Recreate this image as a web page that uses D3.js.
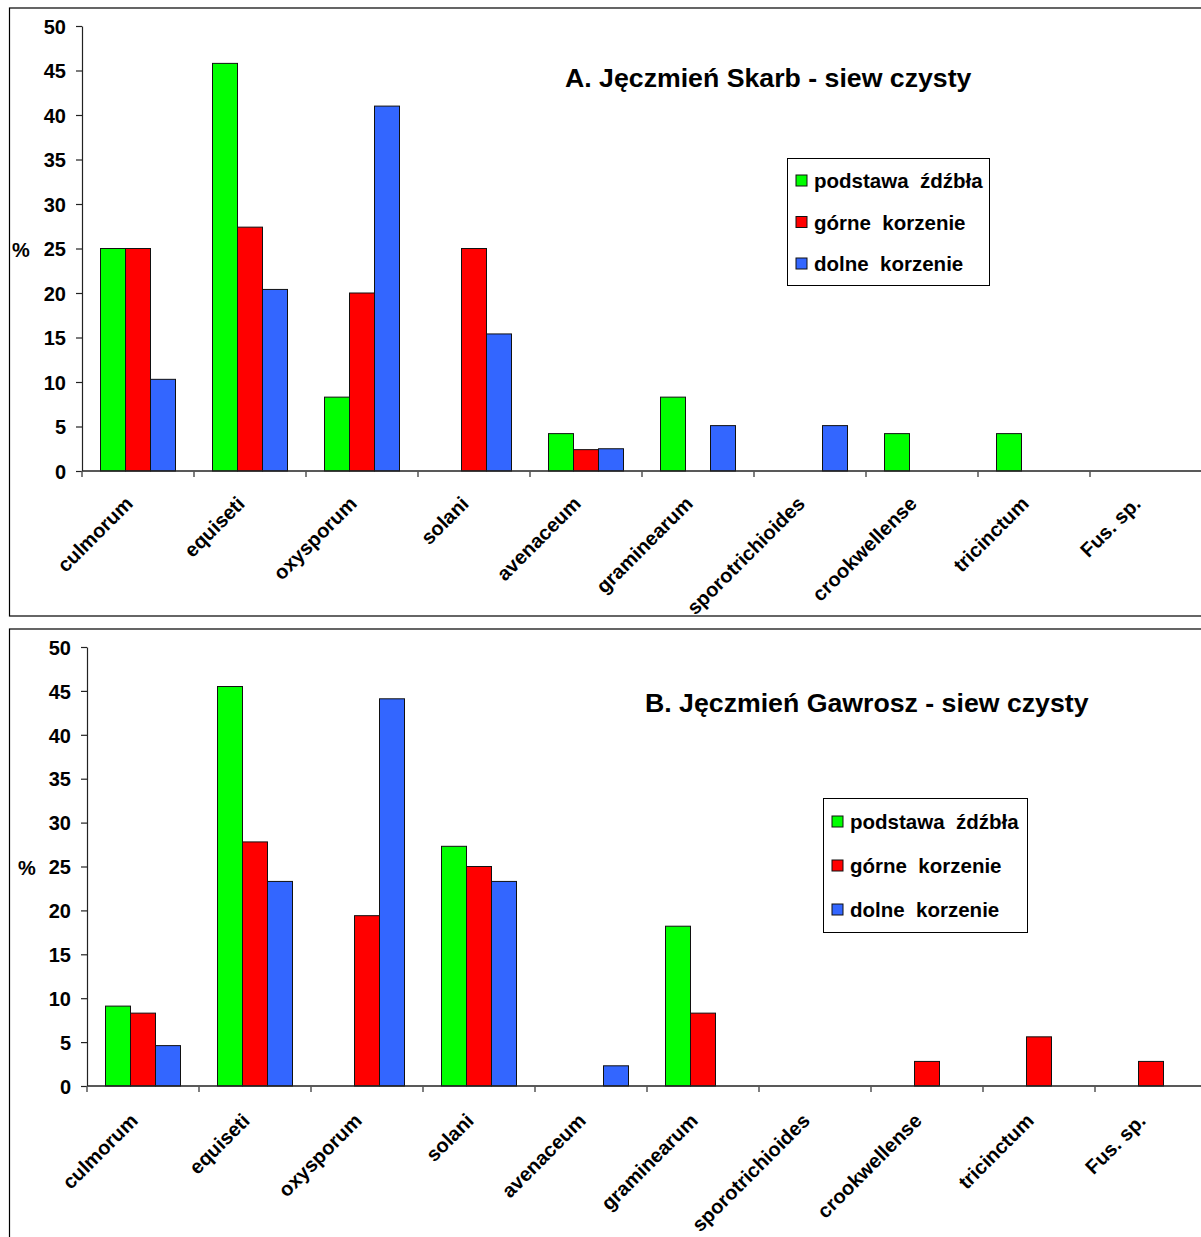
<!DOCTYPE html>
<html>
<head>
<meta charset="utf-8">
<script src="https://cdn.jsdelivr.net/npm/d3@7"></script>
<style>
  html, body { margin: 0; padding: 0; background: #fff; }
  svg { display: block; }
  text { font-family: "Liberation Sans", Arial, sans-serif; font-weight: bold; fill: #000; }
</style>
</head>
<body>
<svg id="chart" width="1201" height="1237"></svg>
<script>
// Fusarium species isolated from barley plant parts (% of isolates)
const categories = ["culmorum", "equiseti", "oxysporum", "solani", "avenaceum",
  "graminearum", "sporotrichioides", "crookwellense", "tricinctum", "Fus. sp."];
const seriesNames = ["podstawa  źdźbła", "górne  korzenie", "dolne  korzenie"];
const seriesColors = ["#00ff00", "#ff0000", "#3366ff"];
const yTicks = [0, 5, 10, 15, 20, 25, 30, 35, 40, 45, 50];

// A. Skarb
const skarbPodstawa = [25, 45.8, 8.3, 0, 4.2, 8.3, 0, 4.2, 4.2, 0];
const skarbGorne    = [25, 27.4, 20, 25, 2.4, 0, 0, 0, 0, 0];
const skarbDolne    = [10.3, 20.4, 41, 15.4, 2.5, 5.1, 5.1, 0, 0, 0];

// B. Gawrosz
const gawroszPodstawa = [9.1, 45.5, 0, 27.3, 0, 18.2, 0, 0, 0, 0];
const gawroszGorne    = [8.3, 27.8, 19.4, 25, 0, 8.3, 0, 2.8, 5.6, 2.8];
const gawroszDolne    = [4.6, 23.3, 44.1, 23.3, 2.3, 0, 0, 0, 0, 0];

const titleA = "A. Jęczmień Skarb - siew czysty";
const titleB = "B. Jęczmień Gawrosz - siew czysty";

const svg = d3.select("#chart");

function drawPanel(p) {
  const g = svg.append("g");

  // outer frame
  g.append("rect")
    .attr("x", p.frame[0]).attr("y", p.frame[1])
    .attr("width", p.frame[2]).attr("height", p.frame[3])
    .attr("fill", "none").attr("stroke", "#000").attr("stroke-width", 1.2);

  const x = d3.scaleBand().domain(categories).range([p.x0, p.x0 + 112 * categories.length]);
  const y = d3.scaleLinear().domain([0, 50]).range([p.yBase, p.yTop]);
  const groupW = 75;
  const xs = d3.scaleBand().domain(d3.range(seriesNames.length)).range([0, groupW]);

  // bars
  p.series.forEach((vals, si) => {
    g.append("g").selectAll("rect")
      .data(categories.map((c, i) => ({ c, v: vals[i] })).filter(d => d.v > 0))
      .join("rect")
      .attr("x", d => x(d.c) + (x.bandwidth() - groupW) / 2 + xs(si))
      .attr("y", d => y(d.v))
      .attr("width", xs.bandwidth())
      .attr("height", d => y(0) - y(d.v))
      .attr("fill", seriesColors[si])
      .attr("stroke", "#111").attr("stroke-width", 1);
  });

  // y axis
  const yAxis = g.append("g")
    .attr("transform", `translate(${p.x0},0)`)
    .call(d3.axisLeft(y).tickValues(yTicks).tickSize(6).tickPadding(10).tickSizeOuter(0));
  yAxis.select(".domain").attr("stroke", "#222").attr("stroke-width", 1.2);
  yAxis.selectAll(".tick line").attr("stroke", "#222").attr("stroke-width", 1.2);
  yAxis.selectAll(".tick text").attr("font-size", 20).attr("font-family", null).attr("dy", "0.36em");

  // x axis: baseline with ticks at category boundaries
  const xAxis = g.append("g").attr("transform", `translate(0,${p.yBase})`);
  xAxis.append("line")
    .attr("x1", p.x0).attr("x2", x.range()[1])
    .attr("stroke", "#222").attr("stroke-width", 1.5);
  xAxis.selectAll("line.tk")
    .data(categories)
    .join("line").attr("class", "tk")
    .attr("x1", d => x(d)).attr("x2", d => x(d))
    .attr("y1", 0).attr("y2", 6)
    .attr("stroke", "#555").attr("stroke-width", 1.5);
  xAxis.selectAll("text")
    .data(categories)
    .join("text")
    .attr("transform", d => `translate(${x(d) + x.bandwidth() / 2 - 4},${p.labelDy}) rotate(-45)`)
    .attr("text-anchor", "end")
    .attr("font-size", 20)
    .text(d => d);

  // unit label
  g.append("text")
    .attr("x", p.pctX).attr("y", y(25)).attr("dy", "0.4em")
    .attr("font-size", 20).text("%");

  // title
  g.append("text")
    .attr("x", p.titleX).attr("y", p.titleY)
    .attr("font-size", 26.7).text(p.title);

  // legend
  const lg = g.append("g").attr("transform", `translate(${p.legend[0]},${p.legend[1]})`);
  lg.append("rect")
    .attr("x", 0.5).attr("y", 0.5)
    .attr("width", p.legend[2]).attr("height", p.legend[3])
    .attr("fill", "#fff").attr("stroke", "#000").attr("stroke-width", 1);
  const items = lg.selectAll("g.item").data(seriesNames).join("g")
    .attr("class", "item")
    .attr("transform", (d, i) => `translate(9,${p.legendFirst + i * p.legendStep})`);
  items.append("rect")
    .attr("x", 0).attr("y", -6).attr("width", 11).attr("height", 11)
    .attr("fill", (d, i) => seriesColors[i]).attr("stroke", "#111").attr("stroke-width", 1);
  items.append("text")
    .attr("x", 18).attr("dy", "0.36em")
    .attr("font-size", 20.5)
    .style("white-space", "pre")
    .text(d => d);
}

drawPanel({
  frame: [9.5, 8, 1200, 608],
  x0: 82, yBase: 471, yTop: 26, labelDy: 34,
  series: [skarbPodstawa, skarbGorne, skarbDolne],
  pctX: 12,
  title: titleA, titleX: 565, titleY: 87,
  legend: [787, 158, 202, 127], legendFirst: 23, legendStep: 41.5
});

drawPanel({
  frame: [9.5, 629, 1200, 620],
  x0: 87, yBase: 1086, yTop: 647, labelDy: 36,
  series: [gawroszPodstawa, gawroszGorne, gawroszDolne],
  pctX: 18,
  title: titleB, titleX: 645, titleY: 712,
  legend: [823, 798, 204, 134], legendFirst: 24, legendStep: 44
});
</script>
</body>
</html>
